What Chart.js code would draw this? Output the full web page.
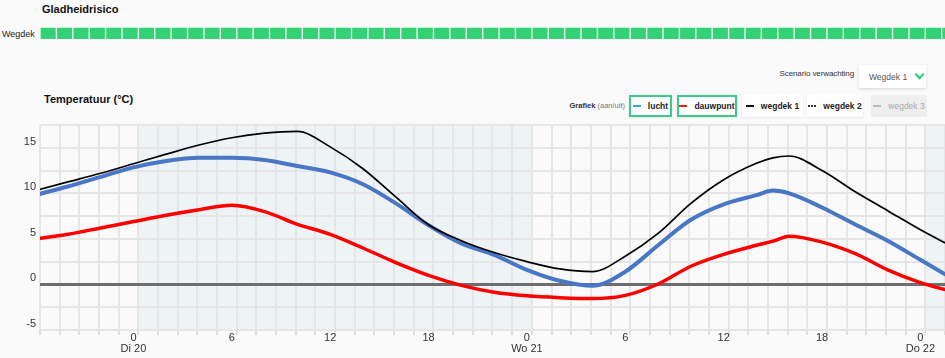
<!DOCTYPE html>
<html><head><meta charset="utf-8">
<script src="https://cdn.jsdelivr.net/npm/chart.js@4.4.1/dist/chart.umd.min.js"></script>
<style>
html,body{margin:0;padding:0;background:#fafafa;width:945px;height:358px;overflow:hidden;font-family:"Liberation Sans",Arial,sans-serif;}
.abs{position:absolute;white-space:nowrap;}
#t1{left:42px;top:3px;font-weight:bold;font-size:11px;color:#111;}
#wegdekLbl{left:2px;top:29px;font-size:9px;color:#222;}
#riskWrap{left:0;top:27px;width:945px;height:12px;}
#scen{right:91px;top:69px;font-size:8px;color:#333;letter-spacing:-0.1px;}
#dd{left:859px;top:65px;width:67px;height:23px;background:#fff;box-shadow:0 1px 3px rgba(0,0,0,0.15);font-size:8.5px;color:#555;display:flex;align-items:center;padding-left:10px;box-sizing:border-box;}
#dd .chev{display:inline-block;width:5px;height:5px;border-right:2px solid #2ecc71;border-bottom:2px solid #2ecc71;transform:rotate(45deg);margin-left:9px;margin-top:-4px;}
#t2{left:44px;top:93px;font-weight:bold;font-size:11px;color:#111;}
#graf{right:320px;top:101px;font-size:7.5px;color:#333;}
#graf span{color:#777;}
.btn{top:95px;height:22px;box-sizing:border-box;background:#fff;display:flex;align-items:center;justify-content:center;font-size:8.5px;font-weight:bold;color:#222;box-shadow:0 1px 2px rgba(0,0,0,0.08);}
.btn.on{border:2px solid #3cc98c;}
.btn i{display:inline-block;width:8px;height:0;border-top:2px solid #000;margin-right:7px;}
.btn.off{background:#eeeeee;color:#aaa;box-shadow:none;font-weight:normal;}
#mainWrap{left:0;top:118px;width:945px;height:240px;}
</style></head>
<body>
<div class="abs" id="t1">Gladheidrisico</div>
<div class="abs" id="wegdekLbl">Wegdek</div>
<div class="abs" id="riskWrap"><canvas id="risk" width="945" height="12"></canvas></div>
<div class="abs" id="scen">Scenario verwachting</div>
<div class="abs" id="dd">Wegdek 1<span class="chev"></span></div>
<div class="abs" id="t2">Temperatuur (°C)</div>
<div class="abs" id="graf"><b>Grafiek</b> <span>(aan/uit)</span></div>
<div class="abs btn on" style="left:629px;width:43px"><i style="border-top-color:#29abe2"></i>lucht</div>
<div class="abs btn on" style="left:677px;width:60px"><i style="border-top-color:#ff1a1a"></i>dauwpunt</div>
<div class="abs btn" style="left:742px;width:61px"><i style="border-top-color:#111"></i>wegdek 1</div>
<div class="abs btn" style="left:807px;width:56px"><i style="border-top:2px dotted #333"></i>wegdek 2</div>
<div class="abs btn off" style="left:871px;width:56px"><i style="border-top:2px dashed #bbb"></i>wegdek 3</div>
<div class="abs" id="mainWrap"><canvas id="main" width="945" height="240"></canvas></div>
<script>
// ---- data ----
const hours = [-6,-4,-2,0,2,4,6,8,10,12,14,16,18,20,22,24,26,28,30,32,34,36,38,39,40,42,44,46,48,50];
const wegdek1 = [10.3,11.25,12.2,13.25,14.3,15.3,16.1,16.6,16.8,15.1,12.7,9.6,6.55,4.8,3.5,2.5,1.7,1.4,3.1,5.6,8.9,11.5,13.3,13.9,14.1,12.5,10.2,8.1,6.0,4.1];
const lucht = [9.8,10.75,11.8,12.85,13.55,13.9,13.9,13.65,13.0,12.3,11.0,8.9,6.5,4.5,3.25,1.6,0.4,-0.15,1.4,4.3,7.1,8.8,9.8,10.3,10.0,8.45,6.6,4.8,2.7,0.6];
const dauwpunt = [5.0,5.5,6.2,6.9,7.6,8.2,8.7,8.0,6.6,5.5,4.0,2.4,1.0,-0.1,-0.85,-1.25,-1.45,-1.55,-1.2,0.05,2.0,3.3,4.3,4.75,5.3,4.65,3.4,1.6,0.2,-0.8];
const xTickHours = [0,6,12,18,24,30,36,42,48];
const xTickLabels = [['0','Di 20'],'6','12','18',['0','Wo 21'],'6','12','18',['0','Do 22']];
const yTickValues = [-5,-2.5,0,2.5,5,7.5,10,12.5,15,17.5];
const yTickLabels = ['-5','','0','','5','','10','','15',''];
const shadeRanges = [[0.3,24.3],[48.3,60]];
const gridHours = [-5.7,-4.5,-3.3,-2.1,-0.9,0.3,1.5,2.7,3.9,5.1,6.3,7.5,8.7,9.9,11.1,12.3,13.5,14.7,15.9,17.1,18.3,19.5,20.7,21.9,23.1,24.3,25.5,26.7,27.9,29.1,30.3,31.5,32.7,33.9,35.1,36.3,37.5,38.7,39.9,41.1,42.3,43.5,44.7,45.9,47.1,48.3,49.5];
const riskHours = [-5.2,-4.2,-3.2,-2.2,-1.2,-0.2,0.8,1.8,2.8,3.8,4.8,5.8,6.8,7.8,8.8,9.8,10.8,11.8,12.8,13.8,14.8,15.8,16.8,17.8,18.8,19.8,20.8,21.8,22.8,23.8,24.8,25.8,26.8,27.8,28.8,29.8,30.8,31.8,32.8,33.8,34.8,35.8,36.8,37.8,38.8,39.8,40.8,41.8,42.8,43.8,44.8,45.8,46.8,47.8,48.8,49.8];
const riskValues = [1,1,1,1,1,1,1,1,1,1,1,1,1,1,1,1,1,1,1,1,1,1,1,1,1,1,1,1,1,1,1,1,1,1,1,1,1,1,1,1,1,1,1,1,1,1,1,1,1,1,1,1,1,1,1,1];
const X_MIN = -5.7, X_MAX = 49.5;

Chart.defaults.font.family = '"Liberation Sans", Arial, sans-serif';

// ---- risk strip ----
new Chart(document.getElementById('risk'), {
  type: 'bar',
  data: { datasets: [{ data: riskHours.map((h,i)=>({x:h,y:riskValues[i]})), backgroundColor:'#33d276', borderColor:'rgba(235,250,240,0.8)', borderWidth:1, barPercentage:1, categoryPercentage:1 }] },
  options: {
    responsive:false, animation:false, events:[],
    layout:{padding:{left:40,right:0,top:0,bottom:0}},
    plugins:{legend:{display:false},tooltip:{enabled:false}},
    scales:{
      x:{type:'linear',min:X_MIN,max:X_MAX,display:false,offset:false,grid:{offset:false}},
      y:{min:0,max:1,display:false}
    }
  }
});

// ---- main chart ----
const shadePlugin = {
  id:'shade',
  beforeDraw(chart){
    const {ctx, chartArea:a, scales:{x}} = chart;
    ctx.save();
    ctx.fillStyle = '#eef3f6';
    shadeRanges.forEach(([s,e])=>{
      const x0 = Math.max(a.left, x.getPixelForValue(s));
      const x1 = Math.min(a.right, x.getPixelForValue(e));
      if (x1 > x0) ctx.fillRect(x0, a.top, x1-x0, a.bottom-a.top);
    });
    ctx.restore();
  }
};

new Chart(document.getElementById('main'), {
  type:'line',
  data:{
    datasets:[
      {label:'wegdek 1', data:hours.map((h,i)=>({x:h,y:wegdek1[i]})), borderColor:'#000', borderWidth:1.7},
      {label:'lucht', data:hours.map((h,i)=>({x:h,y:lucht[i]})), borderColor:'#4a76c6', borderWidth:4},
      {label:'dauwpunt', data:hours.map((h,i)=>({x:h,y:dauwpunt[i]})), borderColor:'#ff0000', borderWidth:3.5}
    ]
  },
  options:{
    responsive:false, animation:false, events:[],
    layout:{padding:{top:7,left:0,right:0,bottom:0}},
    elements:{point:{radius:0}, line:{cubicInterpolationMode:'monotone', fill:false}},
    plugins:{legend:{display:false},tooltip:{enabled:false}},
    scales:{
      x:{type:'linear',position:'bottom',weight:0,min:X_MIN,max:X_MAX,
        afterBuildTicks:s=>{s.ticks = gridHours.map(v=>({value:v}));},
        afterFit:s=>{s.height=0;s.paddingLeft=0;s.paddingRight=0;},
        ticks:{display:false},
        grid:{color:'#e6e6e6',lineWidth:2,drawTicks:true,tickLength:5,tickColor:'#dedede'},
        border:{display:false}
      },
      x2:{type:'linear',position:'bottom',weight:1,min:X_MIN,max:X_MAX,
        afterBuildTicks:s=>{s.ticks = xTickHours.map(v=>({value:v}));},
        afterFit:s=>{s.height=28;s.paddingLeft=0;s.paddingRight=0;},
        grid:{display:false,drawTicks:false},
        border:{display:false},
        ticks:{autoSkip:false,maxRotation:0,padding:2,color:'#333',font:{size:11,lineHeight:1},
          callback:(v,i)=>xTickLabels[i]}
      },
      y:{type:'linear',min:-5,max:17.5,
        afterBuildTicks:s=>{s.ticks = yTickValues.map(v=>({value:v}));},
        afterFit:s=>{s.width=40;s.paddingTop=0;s.paddingBottom=0;},
        ticks:{padding:4,labelOffset:-6,color:'#333',font:{size:11},callback:(v,i)=>yTickLabels[i]},
        grid:{drawTicks:false,
          color:c=>c.tick && c.tick.value===0 ? '#6e6e6e' : '#e6e6e6',
          lineWidth:c=>c.tick && c.tick.value===0 ? 3 : 2},
        border:{display:false}
      }
    }
  },
  plugins:[shadePlugin]
});
</script>
</body></html>
